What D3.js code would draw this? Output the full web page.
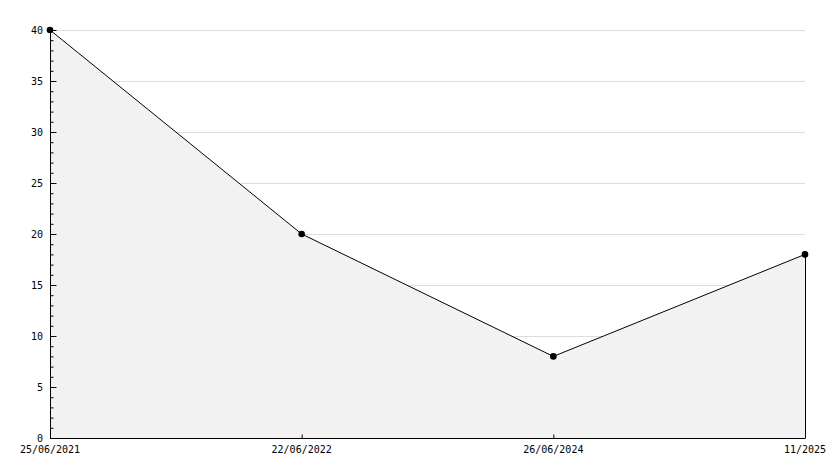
<!DOCTYPE html>
<html>
<head>
<meta charset="utf-8">
<script src="https://cdn.jsdelivr.net/npm/d3@7"></script>
<style>
  body { margin: 0; background: #fff; }
  text { font-family: "DejaVu Sans Mono", monospace; font-size: 10px; fill: #000; }
</style>
</head>
<body>
<svg id="chart"></svg>
<script>
'use strict';

var dates = ['25/06/2021', '22/06/2022', '26/06/2024', '11/2025'];
var values = [40, 20, 8, 18];
var yTicks = [0, 5, 10, 15, 20, 25, 30, 35, 40];

var width = 834,
  height = 468,
  margin = {'top': 30, 'left': 50, 'right': 29, 'bottom': 30};

var svg = d3.select('#chart')
  .attr('width', width)
  .attr('height', height);

var xScale = d3.scalePoint()
  .domain(dates)
  .range([margin.left, width - margin.right]);

var yScale = d3.scaleLinear()
  .domain([0, 40])
  .range([height - margin.bottom, margin.top]);

var data = dates.map(function (d, i) { return {date: d, value: values[i]}; });

// grid
svg.append('g')
  .selectAll('line').data(yTicks.slice(1)).enter()
  .append('line')
  .attr('x1', margin.left)
  .attr('x2', width - margin.right)
  .attr('y1', function (d) { return Math.round(yScale(d)) + 0.5; })
  .attr('y2', function (d) { return Math.round(yScale(d)) + 0.5; })
  .attr('stroke', '#dddddd');

// area
var area = d3.area()
  .x(function (d) { return xScale(d.date); })
  .y0(yScale(0))
  .y1(function (d) { return yScale(d.value); });

svg.append('path')
  .datum(data)
  .attr('d', area)
  .attr('fill', '#f2f2f2');

// right edge of area
var last = data[data.length - 1];
svg.append('line')
  .attr('x1', Math.round(xScale(last.date)) + 0.5)
  .attr('x2', Math.round(xScale(last.date)) + 0.5)
  .attr('y1', yScale(last.value))
  .attr('y2', yScale(0))
  .attr('stroke', '#000');

// line
var line = d3.line()
  .x(function (d) { return xScale(d.date); })
  .y(function (d) { return yScale(d.value); });

svg.append('path')
  .datum(data)
  .attr('d', line)
  .attr('fill', 'none')
  .attr('stroke', '#000')
  .attr('stroke-width', 1);

// y axis
var yAxis = d3.axisRight(yScale)
  .tickValues(yTicks)
  .tickSize(6)
  .tickFormat('');
var yMinor = d3.axisRight(yScale)
  .tickValues(d3.range(0, 41, 1))
  .tickSize(3)
  .tickFormat('');

svg.append('g')
  .attr('transform', 'translate(' + (margin.left + 0.5) + ',0)')
  .call(yMinor)
  .call(function (g) { g.select('.domain').remove(); });

var gy = svg.append('g')
  .attr('transform', 'translate(' + (margin.left + 0.5) + ',0)')
  .call(yAxis);
gy.select('.domain').attr('d', 'M0,' + margin.top + 'V' + (height - margin.bottom));

svg.append('g')
  .selectAll('text').data(yTicks).enter()
  .append('text')
  .attr('x', margin.left - 7)
  .attr('y', function (d) { return yScale(d); })
  .attr('dy', '0.35em')
  .attr('text-anchor', 'end')
  .text(function (d) { return d; });

// x axis
var xAxis = d3.axisTop(xScale)
  .tickSize(4)
  .tickFormat('');
var gx = svg.append('g')
  .attr('transform', 'translate(0,' + (height - margin.bottom + 0.5) + ')')
  .call(xAxis);
gx.select('.domain').attr('d', 'M' + margin.left + ',0H' + (width - margin.right));

svg.append('g')
  .selectAll('text').data(dates).enter()
  .append('text')
  .attr('x', function (d) { return xScale(d); })
  .attr('y', height - margin.bottom + 11)
  .attr('dy', '0.35em')
  .attr('text-anchor', 'middle')
  .text(function (d) { return d; });

// points
svg.append('g')
  .selectAll('circle').data(data).enter()
  .append('circle')
  .attr('cx', function (d) { return xScale(d.date); })
  .attr('cy', function (d) { return yScale(d.value); })
  .attr('r', 3.3)
  .attr('fill', '#000');
</script>
</body>
</html>
